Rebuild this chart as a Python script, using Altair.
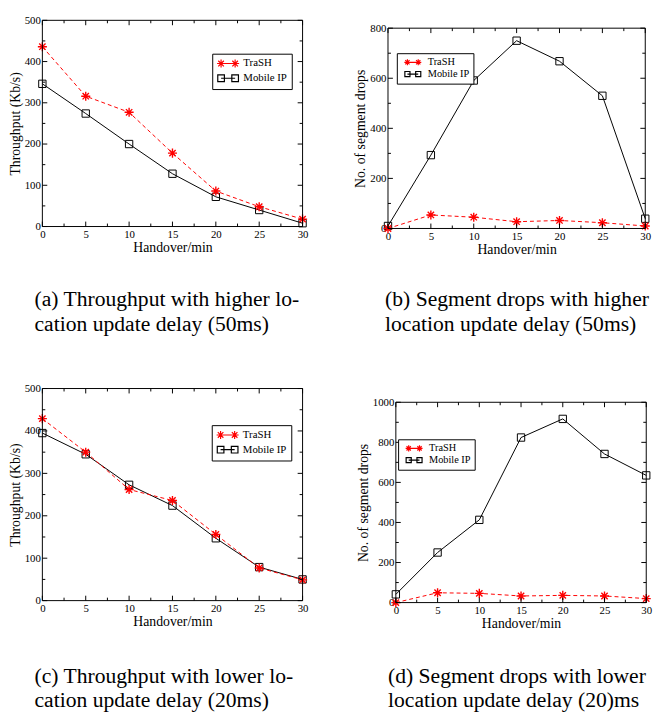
import altair as alt
import pandas as pd

FONT = "Liberation Serif"

# ---- data -------------------------------------------------------------
HANDOVER = [0, 5, 10, 15, 20, 25, 30]
SERIES = ["TraSH", "Mobile IP"]

A_TRASH = [436, 316, 277, 178, 86, 48, 18]
A_MIP = [346, 274, 200, 128, 72, 40, 8]

B_TRASH = [0, 54, 45, 27, 32, 23, 10]
B_MIP = [10, 293, 591, 750, 668, 530, 39]

C_TRASH = [429, 350, 262, 236, 156, 77, 49]
C_MIP = [395, 345, 273, 224, 147, 79, 50]

D_TRASH = [0, 49, 46, 33, 36, 33, 20]
D_MIP = [41, 250, 413, 824, 917, 742, 635]

X_MAJOR = [0, 5, 10, 15, 20, 25, 30]
X_MINOR = [2.5, 7.5, 12.5, 17.5, 22.5, 27.5]

CAP_A = ["(a) Throughput with higher lo-", "cation update delay (50ms)"]
CAP_B = ["(b) Segment drops with higher", "location update delay (50ms)"]
CAP_C = ["(c) Throughput with lower lo-", "cation update delay (20ms)"]
CAP_D = ["(d) Segment drops with lower", "location update delay (20)ms"]

X_TITLE = "Handover/min"
Y_TP = "Throughput (Kb/s)"
Y_SD = "No. of segment drops"

# ---- marker / legend symbol shapes --------------------------------------
ASTERISK = "M-1,0L1,0M0,-1L0,1M-0.7,-0.7L0.7,0.7M-0.7,0.7L0.7,-0.7"


def _star(cx, r):
    k = 0.7 * r
    return (f"M{cx - r:.3f},0L{cx + r:.3f},0M{cx:.3f},{-r:.3f}L{cx:.3f},{r:.3f}"
            f"M{cx - k:.3f},{-k:.3f}L{cx + k:.3f},{k:.3f}"
            f"M{cx - k:.3f},{k:.3f}L{cx + k:.3f},{-k:.3f}")


def _sq(cx, r):
    return (f"M{cx - r:.3f},{-r:.3f}L{cx + r:.3f},{-r:.3f}"
            f"L{cx + r:.3f},{r:.3f}L{cx - r:.3f},{r:.3f}Z")


def legend_paths(c0):
    a, b = c0 - 1.59, c0 + 1.59
    trash = f"M{a:.3f},0L{b:.3f},0" + _star(a, 0.9) + _star(b, 0.9)
    mip = f"M{a:.3f},0L{b:.3f},0" + _sq(a, 0.75) + _sq(b, 0.75)
    return [trash, mip]


def panel(trash, mip, ymax, ystep, ytitle, caption, w, h, top,
          lgx, lgy, lg_font, lg_size, lg_pad, lg_c0, lg_laboff, lg_rowpad,
          cap_dx, cap_offset):
    df = pd.DataFrame({
        "x": HANDOVER * 2,
        "y": list(trash) + list(mip),
        "series": [SERIES[0]] * len(HANDOVER) + [SERIES[1]] * len(HANDOVER),
    })
    y_major = list(range(0, ymax + 1, ystep))
    y_minor = [v + ystep / 2 for v in y_major[:-1]]

    xs = alt.Scale(domain=[0, 30], nice=False, zero=False)
    ys = alt.Scale(domain=[0, ymax], nice=False, range=[h, top])
    xaxis = alt.Axis(values=X_MAJOR, ticks=False, domain=False, grid=False,
                     labelFont=FONT, labelFontSize=11, labelColor="black",
                     labelPadding=2, labelFlush=False, format="d",
                     title=X_TITLE, titleFont=FONT, titleFontSize=14,
                     titleFontWeight="normal", titleColor="black", titlePadding=1)
    yaxis = alt.Axis(values=y_major, ticks=False, domain=False, grid=False,
                     labelFont=FONT, labelFontSize=11, labelColor="black",
                     labelPadding=2, labelFlush=False, format="d",
                     title=ytitle, titleFont=FONT, titleFontSize=14,
                     titleFontWeight="normal", titleColor="black", titlePadding=2)
    xenc = alt.X("x:Q", scale=xs, axis=xaxis)
    yenc = alt.Y("y:Q", scale=ys, axis=yaxis)

    base = alt.Chart(df).encode(x=xenc, y=yenc)
    tr = base.transform_filter(alt.datum.series == SERIES[0])
    mp = base.transform_filter(alt.datum.series == SERIES[1])

    line_mip = mp.mark_line(color="black", strokeWidth=1)
    pts_mip = mp.mark_point(shape="square", size=56, color="black",
                            strokeWidth=1, filled=False, opacity=1)
    line_tr = tr.mark_line(color="red", strokeWidth=1, strokeDash=[4, 3])
    pts_tr = tr.mark_point(shape=ASTERISK, size=85, color="red",
                           strokeWidth=1.4, filled=False, opacity=1)

    leg = alt.Legend(title=None, orient="none", legendX=lgx, legendY=lgy,
                     fillColor="white", strokeColor="black", padding=lg_pad,
                     cornerRadius=0, labelFont=FONT, labelFontSize=lg_font,
                     labelColor="black", symbolSize=lg_size, symbolStrokeWidth=1.2,
                     labelOffset=lg_laboff, rowPadding=lg_rowpad)
    legend_layer = base.mark_point(opacity=0, filled=False).encode(
        color=alt.Color("series:N",
                        scale=alt.Scale(domain=SERIES, range=["red", "black"]),
                        legend=leg),
        shape=alt.Shape("series:N",
                        scale=alt.Scale(domain=SERIES, range=legend_paths(lg_c0)),
                        legend=leg),
    )

    one = pd.DataFrame({"k": [0]})
    fr = alt.Chart(one).mark_rule(color="black", strokeWidth=1)
    frame = [
        fr.encode(x=alt.value(0), x2=alt.value(w), y=alt.value(top)),
        fr.encode(x=alt.value(0), x2=alt.value(w), y=alt.value(h)),
        fr.encode(x=alt.value(0), y=alt.value(top), y2=alt.value(h)),
        fr.encode(x=alt.value(w), y=alt.value(top), y2=alt.value(h)),
    ]

    tick_layers = []
    for vals, ln in ((X_MAJOR, 5), (X_MINOR, 3)):
        tdf = pd.DataFrame({"x": vals})
        tb = alt.Chart(tdf).mark_rule(color="black", strokeWidth=1)
        tick_layers.append(tb.encode(x=xenc, y=alt.value(h), y2=alt.value(h - ln)))
        tick_layers.append(tb.encode(x=xenc, y=alt.value(top), y2=alt.value(top + ln)))
    for vals, ln in ((y_major, 5), (y_minor, 3)):
        tdf = pd.DataFrame({"y": vals})
        tb = alt.Chart(tdf).mark_rule(color="black", strokeWidth=1)
        tick_layers.append(tb.encode(y=yenc, x=alt.value(0), x2=alt.value(ln)))
        tick_layers.append(tb.encode(y=yenc, x=alt.value(w), x2=alt.value(w - ln)))

    layers = [line_mip, pts_mip, line_tr, pts_tr, legend_layer] + frame + tick_layers

    return alt.layer(*layers).properties(
        width=w, height=h,
        title=alt.TitleParams(text=caption, orient="bottom", anchor="start",
                              frame="group", dx=cap_dx, offset=cap_offset,
                              font=FONT, fontSize=22, fontWeight="normal",
                              color="black", lineHeight=25),
    )


pa = panel(A_TRASH, A_MIP, 500, 100, Y_TP, CAP_A, 265, 210, 0,
           173, 34, 11, 81, 4.5, 1.37, 16.2, 2, -8, 36)
pb = panel(B_TRASH, B_MIP, 800, 200, Y_SD, CAP_B, 262, 212, 8,
           9, 33.5, 10.5, 48, 4, 2.03, 17, 1, -3, 34)
pc = panel(C_TRASH, C_MIP, 500, 100, Y_TP, CAP_C, 265, 216, 0,
           172.5, 37.3, 11, 81, 4.5, 1.37, 16.2, 2, -8, 38.5)
pd_ = panel(D_TRASH, D_MIP, 1000, 200, Y_SD, CAP_D, 255, 218, 14,
            2.3, 51.7, 10.5, 48, 4, 2.03, 17, 1, -8, 36.5)

chart = alt.vconcat(
    alt.hconcat(pa, pb, spacing=41).resolve_scale(color="independent", shape="independent"),
    alt.hconcat(pc, pd_, spacing=44).resolve_scale(color="independent", shape="independent"),
    spacing=49,
).resolve_scale(
    color="independent", shape="independent"
).properties(padding=0, background="white").configure_view(
    strokeWidth=0
)

chart.save("out.html", embed_options={"renderer": "svg", "actions": False})
